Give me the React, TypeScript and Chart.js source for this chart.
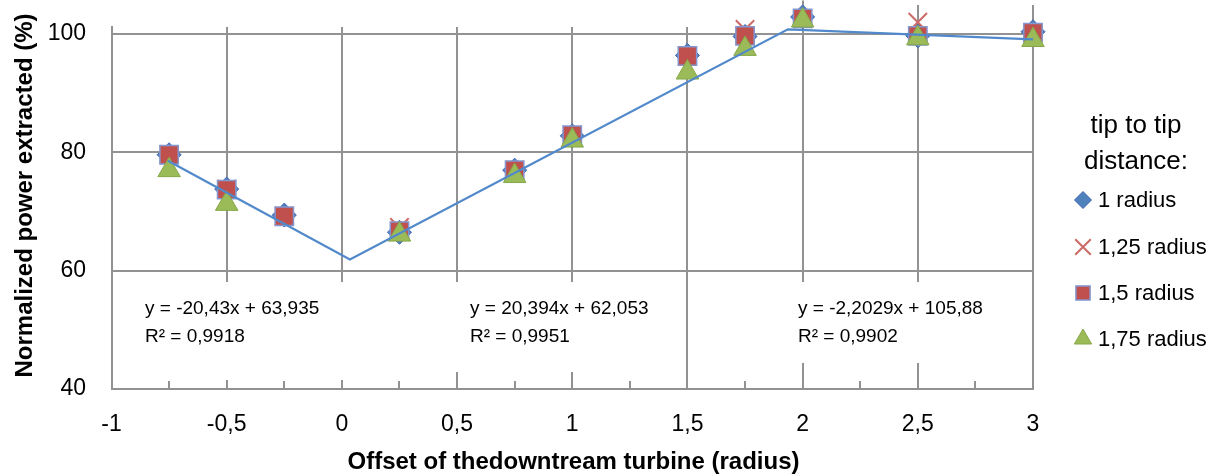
import React, { useEffect, useRef } from 'react';
import { Chart, registerables } from 'chart.js';
import { drawPoint } from 'chart.js/helpers';

Chart.register(...registerables);

const FONT = '"Liberation Sans", Arial, sans-serif';
const GRID = '#929292';

// ---- data ----
const offsets = [-0.75, -0.5, -0.25, 0.25, 0.75, 1, 1.5, 1.75, 2, 2.5, 3];
const power1 = [79.6, 73.8, 69.4, 66.5, 77.0, 82.8, 96.4, 99.6, 102.9, 99.7, 100.4];
const power125 = [79.6, 73.8, 69.2, 67.3, 77.0, 82.9, 96.3, 100.8, 102.6, 102.0, 100.2];
const power15 = [79.6, 73.7, 69.2, 66.7, 77.0, 82.9, 96.3, 99.7, 102.65, 99.7, 100.25];
const power175: (number | null)[] = [77.0, 71.3, null, 66.1, 76.0, 82.0, 93.5, 97.5, 102.3, 99.3, 99.0];

const trendX = [-0.755, 0.035, 1.936, 3];
const trendY = [78.6, 61.9, 100.8, 99.1];

const errorX = [2, 2.5, 3];
const errorTop = [105.7, 104.9, 104.9];

const xTicks = [-1, -0.5, 0, 0.5, 1, 1.5, 2, 2.5, 3];
const xMinorTicks = [-0.75, -0.5, -0.25, 0, 0.25, 0.5, 0.75, 1, 1.25, 1.5, 1.75, 2, 2.25, 2.5, 2.75];
const yTicks = [40, 60, 80, 100];

const seriesLabels = ['1 radius', '1,25 radius', '1,5 radius', '1,75 radius'];
const legendTitle = ['tip to tip', 'distance:'];
const equations = ['y = -20,43x + 63,935', 'y = 20,394x + 62,053', 'y = -2,2029x + 105,88'];
const r2Labels = ['R² = 0,9918', 'R² = 0,9951', 'R² = 0,9902'];
const xTitle = 'Offset of thedowntream turbine (radius)';
const yTitle = 'Normalized power extracted (%)';

// ---- layout (pixels) ----
const eqBoxes = [
  { left: 133, right: 352, top: 282, bottom: 380, textX: 145 },
  { left: 452, right: 668, top: 282, bottom: 372, textX: 470 },
  { left: 790, right: 1005, top: 282, bottom: 363, textX: 798 },
];

const toPts = (ys: (number | null)[]) =>
  offsets.map((x, i) => ({ x, y: ys[i] })).filter((p) => p.y !== null) as { x: number; y: number }[];

const align2 = (px: number) => Math.round(px - 1) + 1;

const overlay = {
  id: 'overlay',
  beforeDatasetsDraw(chart: any) {
    const { ctx, chartArea } = chart;
    const x = chart.scales.x;
    const y = chart.scales.y;
    ctx.save();
    ctx.strokeStyle = GRID;
    ctx.lineWidth = 2;
    errorX.forEach((v, i) => {
      const px = align2(x.getPixelForValue(v));
      ctx.beginPath();
      ctx.moveTo(px, y.getPixelForValue(errorTop[i]));
      ctx.lineTo(px, chartArea.top);
      ctx.stroke();
    });
    ctx.fillStyle = '#ffffff';
    eqBoxes.forEach((b) => ctx.fillRect(b.left, b.top, b.right - b.left, b.bottom - b.top));
    ctx.strokeStyle = GRID;
    ctx.lineWidth = 2;
    xMinorTicks.forEach((v) => {
      const px = align2(x.getPixelForValue(v));
      ctx.beginPath();
      ctx.moveTo(px, chartArea.bottom);
      ctx.lineTo(px, chartArea.bottom - 8);
      ctx.stroke();
    });
    ctx.fillStyle = '#000';
    ctx.font = `19px ${FONT}`;
    ctx.textAlign = 'left';
    ctx.textBaseline = 'alphabetic';
    eqBoxes.forEach((b, i) => {
      ctx.fillText(equations[i], b.textX, 313.5);
      ctx.fillText(r2Labels[i], b.textX, 341.5);
    });
    ctx.restore();
  },
  afterDraw(chart: any) {
    const { ctx } = chart;
    ctx.save();
    ctx.fillStyle = '#000';
    ctx.font = `bold 24px ${FONT}`;
    ctx.textAlign = 'center';
    ctx.textBaseline = 'alphabetic';
    ctx.fillText(xTitle, 573.5, 469);
    ctx.save();
    ctx.translate(32, 195.5);
    ctx.rotate(-Math.PI / 2);
    ctx.fillText(yTitle, 0, 0);
    ctx.restore();
    ctx.font = `26px ${FONT}`;
    ctx.textAlign = 'center';
    ctx.fillText(legendTitle[0], 1136, 133);
    ctx.fillText(legendTitle[1], 1136, 169);
    const itemY = [200, 247, 293, 339];
    const legendRadius = [8.5, 11, 10, 10];
    const markerSets = chart.data.datasets.filter((d: any) => d.label !== 'trend');
    ctx.font = `22px ${FONT}`;
    ctx.textAlign = 'left';
    ctx.textBaseline = 'middle';
    markerSets.forEach((d: any, i: number) => {
      ctx.save();
      ctx.fillStyle = d.backgroundColor;
      ctx.strokeStyle = d.borderColor;
      ctx.lineWidth = d.borderWidth;
      drawPoint(ctx, { pointStyle: d.pointStyle, radius: legendRadius[i], borderWidth: d.borderWidth, rotation: 0 } as any, 1083, itemY[i]);
      ctx.restore();
      ctx.fillStyle = '#000';
      ctx.fillText(seriesLabels[i], 1098, itemY[i] + 1);
    });
    ctx.restore();
  },
};

export default function App() {
  const ref = useRef<HTMLCanvasElement>(null);
  useEffect(() => {
    document.body.style.margin = '0';
    const canvas = ref.current!;
    const chart = new Chart(canvas, {
      type: 'scatter',
      data: {
        datasets: [
          {
            label: 'trend',
            data: trendX.map((x, i) => ({ x, y: trendY[i] })),
            showLine: true,
            borderColor: '#5189CB',
            borderWidth: 2.2,
            pointRadius: 0,
            order: -1,
            clip: false,
          } as any,
          {
            label: seriesLabels[0],
            data: toPts(power1),
            pointStyle: 'rectRot',
            pointRadius: 12,
            backgroundColor: '#4F81BD',
            borderColor: '#3F63B0',
            borderWidth: 1,
            order: 3,
            clip: false,
          },
          {
            label: seriesLabels[1],
            data: toPts(power125),
            pointStyle: 'crossRot',
            pointRadius: 13,
            backgroundColor: 'rgba(0,0,0,0)',
            borderColor: '#CC6A66',
            borderWidth: 2,
            order: 2,
            clip: false,
          },
          {
            label: seriesLabels[2],
            data: toPts(power15),
            pointStyle: 'rect',
            pointRadius: 13,
            backgroundColor: '#C0504D',
            borderColor: '#8497CF',
            borderWidth: 1.5,
            order: 1,
            clip: false,
          },
          {
            label: seriesLabels[3],
            data: toPts(power175),
            pointStyle: 'triangle',
            pointRadius: 13,
            backgroundColor: '#9BBB59',
            borderColor: '#86A84A',
            borderWidth: 1,
            order: 0,
            clip: false,
          },
        ],
      },
      options: {
        responsive: false,
        animation: false,
        events: [],
        layout: { padding: { top: 27, right: 184, bottom: 0, left: 0 } },
        plugins: { legend: { display: false }, tooltip: { enabled: false } },
        scales: {
          x: {
            type: 'linear',
            min: -1,
            max: 3,
            afterBuildTicks: (s: any) => {
              s.ticks = xTicks.map((v) => ({ value: v }));
            },
            afterFit: (s: any) => {
              s.height = 85;
              s.paddingLeft = 0;
              s.paddingRight = 0;
            },
            ticks: {
              autoSkip: false,
              maxRotation: 0,
              padding: 22,
              color: '#000',
              font: { family: FONT, size: 23 },
              callback: (v: any) => String(v).replace('.', ','),
            },
            grid: { color: GRID, lineWidth: 2, drawTicks: false },
            border: { display: true, color: GRID, width: 2 },
          },
          y: {
            type: 'linear',
            min: 40,
            max: 101.2,
            afterBuildTicks: (s: any) => {
              s.ticks = yTicks.map((v) => ({ value: v }));
            },
            afterFit: (s: any) => {
              s.width = 111.5;
              s.paddingTop = 0;
              s.paddingBottom = 0;
            },
            ticks: {
              padding: 25.5,
              color: '#000',
              font: { family: FONT, size: 23 },
            },
            grid: { color: GRID, lineWidth: 2, drawTicks: false },
            border: { display: true, color: GRID, width: 2 },
          },
        },
      },
      plugins: [overlay as any],
    });
    return () => chart.destroy();
  }, []);
  return <canvas ref={ref} width={1217} height={474} style={{ display: 'block', width: 1217, height: 474 }} />;
}
